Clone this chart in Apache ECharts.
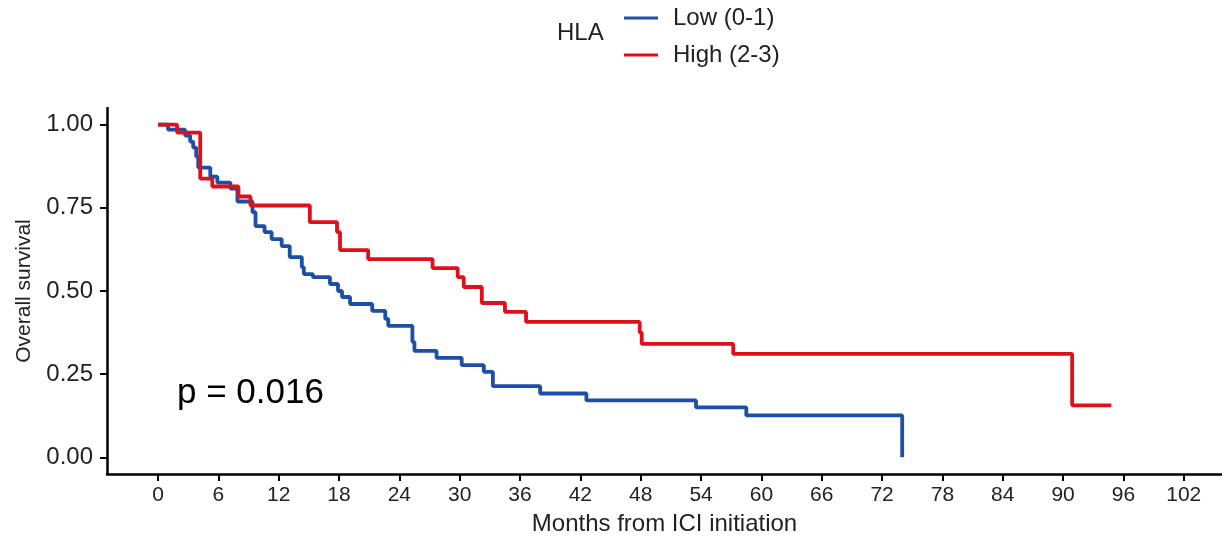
<!DOCTYPE html>
<html lang="en">
<head>
<meta charset="UTF-8">
<title>Overall survival by HLA</title>
<script src="https://cdn.jsdelivr.net/npm/echarts@6/dist/echarts.min.js"></script>
<style>
  html, body { margin: 0; padding: 0; background: #fff; }
  #chart { width: 1222px; height: 541px; }
</style>
</head>
<body>
<div id="chart"></div>
<script>
// Kaplan-Meier step points (month, survival after the drop)
var lowMonths = [0, 1.0, 2.7, 3.2, 3.5, 3.8, 4.0, 5.2, 5.9, 7.2, 7.9, 9.4, 9.7, 10.6, 11.3, 12.3, 13.1, 14.3, 14.5, 15.4, 17.1, 17.9, 18.3, 19.1, 21.3, 22.6, 22.9, 25.3, 25.5, 27.7, 30.2, 32.4, 33.3, 38.0, 42.6, 53.5, 58.5, 74.0];
var lowSurv   = [1.0, 0.985, 0.967, 0.949, 0.931, 0.904, 0.871, 0.844, 0.826, 0.808, 0.769, 0.737, 0.695, 0.677, 0.656, 0.635, 0.602, 0.572, 0.551, 0.542, 0.521, 0.500, 0.482, 0.461, 0.440, 0.416, 0.395, 0.347, 0.320, 0.299, 0.277, 0.257, 0.214, 0.192, 0.171, 0.150, 0.126, 0.0];

var highMonths = [0, 1.9, 4.2, 5.4, 8.0, 9.2, 15.1, 17.8, 18.1, 20.9, 27.3, 29.8, 30.4, 32.2, 34.5, 36.6, 47.9, 48.1, 57.2, 90.9, 94.8];
var highSurv   = [1.0, 0.976, 0.838, 0.814, 0.784, 0.757, 0.707, 0.677, 0.623, 0.596, 0.569, 0.542, 0.512, 0.464, 0.437, 0.407, 0.375, 0.341, 0.311, 0.156, 0.156];

var xTicks = [0, 6, 12, 18, 24, 30, 36, 42, 48, 54, 60, 66, 72, 78, 84, 90, 96, 102];
var yTicks = [0, 0.25, 0.5, 0.75, 1.0];

var groupNames = ['Low (0-1)', 'High (2-3)'];
var pValueText = 'p = 0.016';

function pairs(xs, ys) {
    var out = [];
    for (var i = 0; i < xs.length; i++) out.push([xs[i], ys[i]]);
    return out;
}

var chart = echarts.init(document.getElementById('chart'));
var font = 'Liberation Sans, Arial, sans-serif';

chart.setOption({
    animation: false,
    textStyle: { fontFamily: font },
    color: ['#1c4fa8', '#e0101a'],
    grid: { left: 107, right: 0, top: 108, bottom: 66 },
    legend: {
        orient: 'vertical',
        left: 619,
        top: 1,
        itemWidth: 34,
        itemHeight: 3,
        itemGap: 13,
        icon: 'rect',
        textStyle: { fontSize: 24, color: '#222', fontFamily: font, padding: [0, 0, 0, 10] },
        data: groupNames
    },
    graphic: [
        {
            type: 'text',
            left: 557,
            top: 21,
            style: { text: 'HLA', font: '24px ' + font, fill: '#222' }
        },
        {
            type: 'text',
            left: 177,
            top: 376,
            style: { text: pValueText, font: '35px ' + font, fill: '#000' }
        }
    ],
    xAxis: {
        type: 'value',
        min: -5.07,
        max: 105.8,
        name: 'Months from ICI initiation',
        nameLocation: 'middle',
        nameGap: 38,
        nameTextStyle: { fontSize: 24, color: '#222' },
        axisLine: { onZero: false, lineStyle: { color: '#000', width: 2.5 } },
        axisTick: { show: true, length: 7, lineStyle: { color: '#000', width: 2 }, customValues: xTicks },
        axisLabel: { fontSize: 21, color: '#222', margin: 11, customValues: xTicks },
        splitLine: { show: false }
    },
    yAxis: {
        type: 'value',
        min: -0.05,
        max: 1.05,
        name: 'Overall survival',
        nameLocation: 'middle',
        nameGap: 72,
        nameTextStyle: { fontSize: 21, color: '#222' },
        axisLine: { show: true, onZero: false, lineStyle: { color: '#000', width: 2.5 } },
        axisTick: { show: true, length: 7, lineStyle: { color: '#000', width: 2 }, customValues: yTicks },
        axisLabel: {
            fontSize: 24, color: '#222', margin: 14, customValues: yTicks,
            formatter: function (v) { return v.toFixed(2); }
        },
        splitLine: { show: false }
    },
    series: [
        {
            name: groupNames[0],
            type: 'line',
            step: 'end',
            symbol: 'none',
            lineStyle: { width: 3.8 },
            data: pairs(lowMonths, lowSurv)
        },
        {
            name: groupNames[1],
            type: 'line',
            step: 'end',
            symbol: 'none',
            lineStyle: { width: 3.8 },
            data: pairs(highMonths, highSurv)
        }
    ]
});
</script>
</body>
</html>
